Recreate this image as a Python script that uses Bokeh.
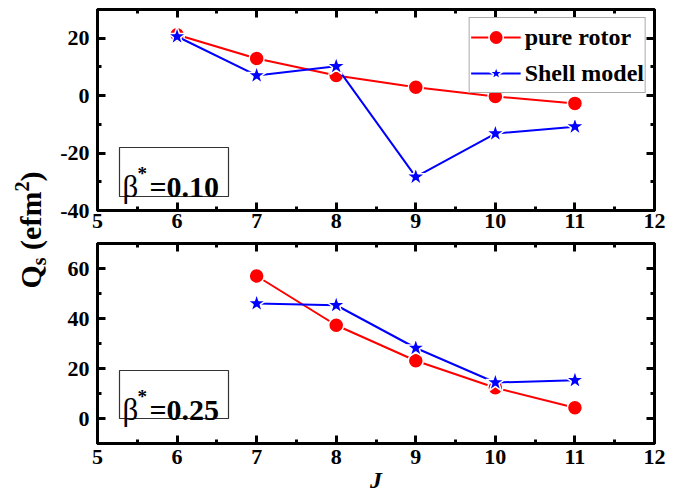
import math
from bokeh.plotting import figure
from bokeh.models import (Range1d, LinearAxis, SingleIntervalTicker, Label, BoxAnnotation,
                          CustomLabelingPolicy)
from bokeh.layouts import row, column
from bokeh.embed import file_html
from bokeh.resources import INLINE

# ---------------- data ----------------
J_top = [6, 7, 8, 9, 10, 11]
rotor_top = [21.2, 12.9, 7.0, 2.9, -0.3, -2.7]
shell_top = [20.6, 7.0, 10.2, -28.3, -13.2, -10.8]

J_bottom = [7, 8, 9, 10, 11]
rotor_bottom = [57.0, 37.3, 23.1, 12.3, 4.3]
shell_bottom = [46.0, 45.3, 28.2, 14.4, 15.3]

series_names = ["pure rotor", "Shell model"]
beta_labels = ["0.10", "0.25"]
x_axis_title = "J"
x_limits = (5, 12)
top_y_limits = (-40, 30)
bottom_y_limits = (-10, 70)
top_y_ticks = [-40, -20, 0, 20]
bottom_y_ticks = [0, 20, 40, 60]
x_tick_step = 1
y_tick_step = 20

# ---------------- style / layout ----------------
FONT = "Liberation Serif"
RED = "#FF0000"
BLUE = "#0000FF"

LEFT_W = 50
MAIN_W = 646
TOP_H = 240
BOT_H = 260
BORDER_L = 47
BORDER_R = 42
TOP_BT, TOP_BB = 9, 30
BOT_BT, BOT_BB = 3, 57

PAGE0 = 0
FRAME_L = PAGE0 + LEFT_W + BORDER_L
FRAME_R = PAGE0 + LEFT_W + MAIN_W - BORDER_R
TOP_FT = PAGE0 + TOP_BT
TOP_FB = PAGE0 + TOP_H - TOP_BB
BOT_FT = PAGE0 + TOP_H + BOT_BT
BOT_FB = PAGE0 + TOP_H + BOT_H - BOT_BB

NO_LABELS = """
for (const i of indices) { indices.unset(i) }
return indices
"""


def to_data(xp, yp, ylim, ft, fb):
    x = x_limits[0] + (xp - FRAME_L) * (x_limits[1] - x_limits[0]) / (FRAME_R - FRAME_L)
    y = ylim[1] - (yp - ft) * (ylim[1] - ylim[0]) / (fb - ft)
    return x, y


def make_panel(h, ylim, yticks, bt, bb, xstand):
    p = figure(width=MAIN_W, height=h, x_range=Range1d(*x_limits), y_range=Range1d(*ylim),
               output_backend="svg", toolbar_location=None,
               min_border_left=BORDER_L, min_border_right=BORDER_R,
               min_border_top=bt, min_border_bottom=bb)
    p.add_layout(LinearAxis(), "above")
    p.add_layout(LinearAxis(), "right")
    p.grid.visible = False
    p.outline_line_color = "black"
    p.outline_line_width = 3
    p.outline_line_alpha = 1
    p.background_fill_color = "white"
    p.border_fill_color = "white"
    for ax in p.xaxis:
        ax.ticker = SingleIntervalTicker(interval=x_tick_step, num_minor_ticks=2)
    for ax in p.yaxis:
        ax.ticker = SingleIntervalTicker(interval=y_tick_step, num_minor_ticks=2)
    for ax in p.axis:
        ax.axis_line_color = None
        ax.major_tick_in = 8
        ax.major_tick_out = 0
        ax.minor_tick_in = 4
        ax.minor_tick_out = 0
        ax.major_tick_line_width = 3
        ax.minor_tick_line_width = 3
        ax.major_tick_line_color = "black"
        ax.minor_tick_line_color = "black"
        ax.major_label_text_font = FONT
        ax.major_label_text_font_style = "bold"
        ax.major_label_text_font_size = "22px"
        ax.major_label_text_color = "black"
    for ax in (p.above[-1], p.right[-1]):
        ax.major_label_policy = CustomLabelingPolicy(code=NO_LABELS)
        ax.major_label_text_font_size = "0px"
        ax.major_label_standoff = 0
    p.below[0].major_label_standoff = xstand
    p.left[0].major_label_standoff = 8
    p.left[0].major_label_overrides = {t: str(t) for t in yticks}
    return p


def draw_series(p, xs, ys, color, marker, size, legend=None):
    kw = {"legend_label": legend} if legend else {}
    p.line(xs, ys, line_color=color, line_width=2, **kw)
    p.scatter(xs, ys, marker=marker, size=size, fill_color=color, line_color="white",
              line_width=1.5, **kw)


def beta_box(p, val, box_px, base_px, ylim, ft, fb):
    (l, t), (r, b) = box_px
    x0, y0 = to_data(l, t, ylim, ft, fb)
    x1, y1 = to_data(r, b, ylim, ft, fb)
    p.add_layout(BoxAnnotation(left=x0, right=x1, top=y0, bottom=y1, fill_alpha=0,
                               line_color="#333333", line_width=1.2, line_alpha=1))
    bx, by = base_px
    pieces = [("\u03b2", 0, 0, "normal", "31px"),
              ("*", 15, -13, "bold", "19px"),
              ("=" + val, 27, 0, "bold", "30px")]
    for txt, dx, dy, style, fs in pieces:
        x, y = to_data(bx + dx, by + dy, ylim, ft, fb)
        p.add_layout(Label(x=x, y=y, text=txt, text_font=FONT, text_font_style=style,
                           text_font_size=fs, text_color="black", text_align="left",
                           text_baseline="alphabetic"))


# ---------------- top panel ----------------
p1 = make_panel(TOP_H, top_y_limits, top_y_ticks, TOP_BT, TOP_BB, 3)
draw_series(p1, J_top, rotor_top, RED, "circle", 15, series_names[0])
draw_series(p1, J_top, shell_top, BLUE, "star", 20, series_names[1])
lg = p1.legend[0]
lg.location = "top_right"
lg.margin = 8
lg.padding = 1
lg.spacing = -5
lg.glyph_width = 50
lg.glyph_height = 36
lg.label_height = 36
lg.label_standoff = 4
lg.label_text_font = FONT
lg.label_text_font_style = "bold"
lg.label_text_font_size = "24px"
lg.label_text_color = "black"
lg.border_line_color = "#555555"
lg.border_line_width = 1
lg.background_fill_color = "white"
lg.background_fill_alpha = 1
beta_box(p1, beta_labels[0], ((119, 147), (228, 196)), (122, 186), top_y_limits, TOP_FT, TOP_FB)

# ---------------- bottom panel ----------------
p2 = make_panel(BOT_H, bottom_y_limits, bottom_y_ticks, BOT_BT, BOT_BB, 6)
draw_series(p2, J_bottom, rotor_bottom, RED, "circle", 15)
draw_series(p2, J_bottom, shell_bottom, BLUE, "star", 20)
beta_box(p2, beta_labels[1], ((119, 370), (228, 418)), (122, 409), bottom_y_limits, BOT_FT, BOT_FB)
xa = p2.below[0]
xa.axis_label = x_axis_title
xa.axis_label_standoff = 0
xa.axis_label_text_font = FONT
xa.axis_label_text_font_style = "bold italic"
xa.axis_label_text_font_size = "24px"
xa.axis_label_text_color = "black"

# ---------------- y-axis title column ----------------
LAB_H = TOP_H + BOT_H
pl = figure(width=LEFT_W, height=LAB_H, x_range=Range1d(0, LEFT_W), y_range=Range1d(0, LAB_H),
            output_backend="svg", toolbar_location=None, x_axis_type=None, y_axis_type=None,
            min_border=0)
pl.outline_line_color = None
pl.background_fill_color = "white"
pl.border_fill_color = "white"

# pieces of "Q_s (efm^2)" written bottom-to-top: (text, size, x shift, advance in em)
ylab_pieces = [("Q", 30, 0, 0.778), ("s", 20, 8, 0.389), (None, 30, 0, 0.25),
               ("(efm", 30, 0, 1.943), ("2", 20, -9, 0.5), (")", 30, 0, 0.333)]
cx = 30 - PAGE0
cur = (PAGE0 + LAB_H) - 288
for txt, fs, dx, em in ylab_pieces:
    if txt:
        pl.add_layout(Label(x=cx + dx, y=cur, text=txt, angle=math.pi / 2, text_font=FONT,
                            text_font_style="bold", text_font_size="%dpx" % fs,
                            text_color="black", text_align="left", text_baseline="middle"))
    cur += em * fs

layout = row(pl, column(p1, p2))
open("out.html", "w").write(file_html(layout, INLINE))
